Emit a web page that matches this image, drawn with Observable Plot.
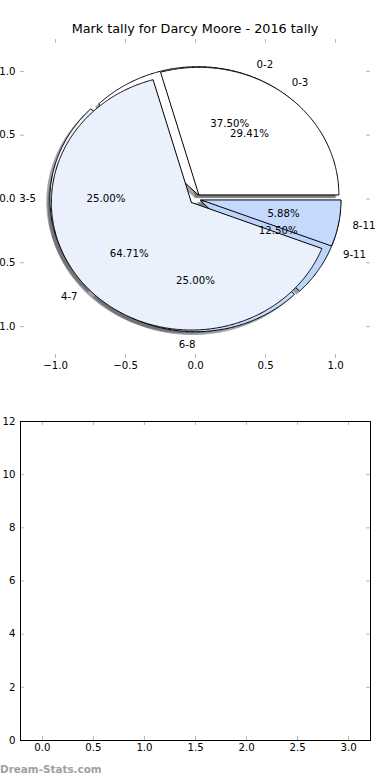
<!DOCTYPE html>
<html><head><meta charset="utf-8">
<script src="https://cdn.jsdelivr.net/npm/d3@7"></script>
<script src="https://cdn.jsdelivr.net/npm/@observablehq/plot@0.6"></script>
<style>
body{margin:0;background:#fff;}
#wrap{position:relative;width:390px;height:780px;overflow:hidden;font-family:"DejaVu Sans",sans-serif;background:#fff;}
#title{position:absolute;left:0;top:21px;width:390px;text-align:center;font-size:12.8px;line-height:16px;color:#000;white-space:nowrap;}
#top{position:absolute;left:0;top:0;}
#bottom{position:absolute;left:0;top:390px;}
#wm{position:absolute;left:0;top:762px;font-size:10.4px;font-weight:bold;color:#a0a0a0;line-height:14px;}
</style></head><body>
<div id="wrap"><div id="top"></div><div id="bottom"></div><div id="title"></div><div id="wm"></div></div>
<script>
const titleText = "Mark tally for Darcy Moore - 2016 tally";
const watermark = "Dream-Stats.com";

// Pie A (3-month bands)
const pieALabels = ["0-2", "3-5", "6-8", "9-11"];
const pieAValues = [3, 2, 2, 1];
const pieAColors = ["#ffffff", "#eaf1fd", "#c8dbfb", "#bdd5fa"];

// Pie B (4-month bands)
const pieBLabels = ["0-3", "4-7", "8-11"];
const pieBValues = [5, 11, 1];
const pieBColors = ["#ffffff", "#eaf1fd", "#c5d9fc"];

const explodeDist = 0.04;
const labelDist = 1.1;
const pctDist = 0.6;
const shadowOffset = -0.022;

const pieTicks = [-1, -0.5, 0, 0.5, 1];
const pieDomain = [-1.25, 1.25];
const barXTicks = [0, 0.5, 1, 1.5, 2, 2.5, 3];
const barYTicks = [0, 2, 4, 6, 8, 10, 12];
const barXDomain = [-0.215, 3.215];
const barYDomain = [0, 12];

document.getElementById("title").textContent = titleText;
document.getElementById("wm").textContent = watermark;

function buildPie(labels, values, colors) {
  const total = d3.sum(values);
  let start = 0;
  return values.map((v, i) => {
    const frac = v / total;
    const t1 = start * 360, t2 = (start + frac) * 360;
    start += frac;
    const mid = (t1 + t2) / 2 * Math.PI / 180;
    const cx = explodeDist * Math.cos(mid), cy = explodeDist * Math.sin(mid);
    const pts = [{x: cx, y: cy}];
    const n = Math.max(2, Math.ceil((t2 - t1) / 0.5));
    for (let k = 0; k <= n; k++) {
      const a = (t1 + (t2 - t1) * k / n) * Math.PI / 180;
      pts.push({x: cx + Math.cos(a), y: cy + Math.sin(a)});
    }
    pts.push({x: cx, y: cy});
    return {label: labels[i], frac, color: colors[i], pts, cx, cy, mid};
  });
}

const wedgesA = buildPie(pieALabels, pieAValues, pieAColors);
const wedgesB = buildPie(pieBLabels, pieBValues, pieBColors);
const allWedges = [...wedgesA, ...wedgesB];

function shadowColor(c) {
  const r = d3.rgb(c);
  return d3.rgb(r.r * 0.3, r.g * 0.3, r.b * 0.3).formatHex();
}

const shadowMarks = allWedges.map(w => Plot.line(w.pts, {
  x: d => d.x + shadowOffset, y: d => d.y + shadowOffset,
  fill: shadowColor(w.color), stroke: shadowColor(w.color), strokeWidth: 1,
  opacity: 0.5, curve: "linear"
}));
const wedgeMarks = allWedges.map(w => Plot.line(w.pts, {
  x: "x", y: "y", fill: w.color, stroke: "#000", strokeWidth: 1,
  strokeLinejoin: "miter", curve: "linear"
}));

const labelData = allWedges.map(w => ({
  x: w.cx + labelDist * Math.cos(w.mid),
  y: w.cy + labelDist * Math.sin(w.mid),
  text: w.label
}));
const pctData = allWedges.map(w => ({
  x: w.cx + pctDist * Math.cos(w.mid),
  y: w.cy + pctDist * Math.sin(w.mid),
  text: d3.format(".2f")(w.frac * 100) + "%"
}));

const FS = 10.2;
const tickGray = "#b8b8b8";
const W = 390, H = 390;

const topMT = 39, topMB = 32, ML = 20, MR = 20;
const topInnerH = H - topMT - topMB;
const innerW = W - ML - MR;

const topPlot = Plot.plot({
  width: W, height: H,
  marginTop: topMT, marginBottom: topMB, marginLeft: ML, marginRight: MR,
  style: {fontFamily: "DejaVu Sans", fontSize: FS + "px", background: "transparent"},
  x: {domain: pieDomain, label: null},
  y: {domain: pieDomain, label: null},
  marks: [
    Plot.tickX(pieTicks, {x: d => d, stroke: tickGray, insetTop: topInnerH - 4}),
    Plot.tickX(pieTicks, {x: d => d, stroke: tickGray, insetBottom: topInnerH - 4}),
    Plot.tickY(pieTicks, {y: d => d, stroke: tickGray, insetRight: innerW - 4}),
    Plot.tickY(pieTicks, {y: d => d, stroke: tickGray, insetLeft: innerW - 4}),
    ...shadowMarks,
    ...wedgeMarks,
    Plot.text(pctData, {x: "x", y: "y", text: "text", fontSize: FS, textAnchor: "middle"}),
    Plot.text(labelData.filter(d => d.x > 0), {x: "x", y: "y", text: "text", fontSize: FS, textAnchor: "start"}),
    Plot.text(labelData.filter(d => !(d.x > 0)), {x: "x", y: "y", text: "text", fontSize: FS, textAnchor: "end"}),
    Plot.axisX(pieTicks, {anchor: "bottom", label: null, tickSize: 0, tickPadding: 3, tickFormat: d3.format(".1f"), fontSize: FS}),
    Plot.axisY(pieTicks, {anchor: "left", label: null, tickSize: 0, tickPadding: 5, tickFormat: d3.format(".1f"), fontSize: FS})
  ]
});
document.getElementById("top").appendChild(topPlot);

const botMT = 31, botMB = 40;
const botInnerH = H - botMT - botMB;
const botPlot = Plot.plot({
  width: W, height: H,
  marginTop: botMT, marginBottom: botMB, marginLeft: ML, marginRight: MR,
  style: {fontFamily: "DejaVu Sans", fontSize: FS + "px", background: "transparent"},
  x: {domain: barXDomain, label: null},
  y: {domain: barYDomain, label: null},
  marks: [
    Plot.tickX(barXTicks, {x: d => d, stroke: tickGray, insetTop: botInnerH - 4}),
    Plot.tickX(barXTicks, {x: d => d, stroke: tickGray, insetBottom: botInnerH - 4}),
    Plot.tickY(barYTicks, {y: d => d, stroke: tickGray, insetRight: innerW - 4}),
    Plot.tickY(barYTicks, {y: d => d, stroke: tickGray, insetLeft: innerW - 4}),
    Plot.frame({stroke: "#000", strokeWidth: 1}),
    Plot.axisX(barXTicks, {anchor: "bottom", label: null, tickSize: 0, tickPadding: 3, tickFormat: d3.format(".1f"), fontSize: FS}),
    Plot.axisY(barYTicks, {anchor: "left", label: null, tickSize: 0, tickPadding: 5, tickFormat: d3.format("d"), fontSize: FS})
  ]
});
document.getElementById("bottom").appendChild(botPlot);
</script>
</body></html>
